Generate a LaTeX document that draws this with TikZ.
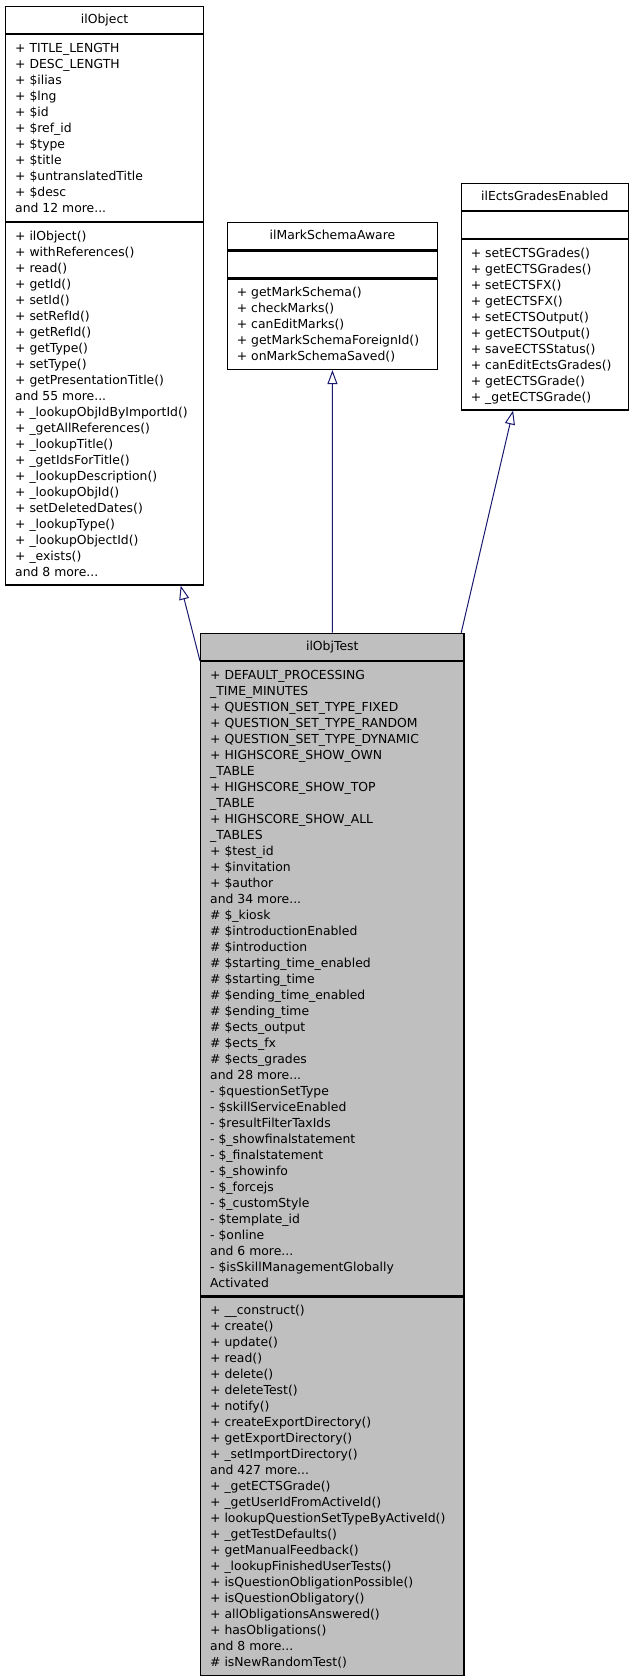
\documentclass[tikz,border=0pt]{standalone}
\usepackage{fontspec}
\setmainfont{DejaVu Sans}
\usetikzlibrary{arrows.meta}
\definecolor{edgeblue}{HTML}{191970}
\definecolor{testgray}{HTML}{BFBFBF}
\newcommand{\fr}{\rule{0pt}{12pt}}
\begin{document}
\begin{tikzpicture}[x=1pt,y=-1pt,
  font=\fontsize{12.4}{16}\selectfont,
  secbox/.style={draw=black, line width=1.2pt, inner sep=0pt, anchor=north west},
  titlebox/.style={secbox, minimum height=27pt, text height=9.5pt, text depth=2.5pt},
  sectext/.style={inner sep=0pt, anchor=north west, align=left},
  inh/.style={draw=edgeblue, line width=1pt, -{Triangle[open,length=14pt,width=10pt]}}
]
\useasboundingbox (0,0) rectangle (632,1680);

% ---------------- ilObject ----------------
\node[titlebox, minimum width=198pt] (objT) at (5,6) {ilObject};
\node[secbox, minimum width=198pt, minimum height=186.5pt] (objA) at (objT.south west) {};
\node[sectext] (objAt) at ([shift={(10pt,-6pt)}]objA.north west) {\fr + TITLE\_LENGTH\\
+ DESC\_LENGTH\\
+ \$ilias\\
+ \$lng\\
+ \$id\\
+ \$ref\_id\\
+ \$type\\
+ \$title\\
+ \$untranslatedTitle\\
+ \$desc\\
and 12 more...};
\node[secbox, minimum width=198pt, minimum height=362.5pt] (objM) at (objA.south west) {};
\node[sectext] (objMt) at ([shift={(10pt,-6pt)}]objM.north west) {\fr + ilObject()\\
+ withReferences()\\
+ read()\\
+ getId()\\
+ setId()\\
+ setRefId()\\
+ getRefId()\\
+ getType()\\
+ setType()\\
+ getPresentationTitle()\\
and 55 more...\\
+ \_lookupObjIdByImportId()\\
+ \_getAllReferences()\\
+ \_lookupTitle()\\
+ \_getIdsForTitle()\\
+ \_lookupDescription()\\
+ \_lookupObjId()\\
+ setDeletedDates()\\
+ \_lookupType()\\
+ \_lookupObjectId()\\
+ \_exists()\\
and 8 more...};

% ---------------- ilMarkSchemaAware ----------------
\node[titlebox, minimum width=210.3pt] (msaT) at (226.7,222.3) {ilMarkSchemaAware};
\node[secbox, minimum width=210.3pt, minimum height=26.7pt] (msaA) at (msaT.south west) {};
\node[secbox, minimum width=210.3pt, minimum height=90.5pt] (msaM) at (msaA.south west) {};
\node[sectext] (msaMt) at ([shift={(10pt,-6pt)}]msaM.north west) {\fr + getMarkSchema()\\
+ checkMarks()\\
+ canEditMarks()\\
+ getMarkSchemaForeignId()\\
+ onMarkSchemaSaved()};

% ---------------- ilEctsGradesEnabled ----------------
\node[titlebox, minimum width=167pt] (ectsT) at (460.7,182.7) {ilEctsGradesEnabled};
\node[secbox, minimum width=167pt, minimum height=26.7pt] (ectsA) at (ectsT.south west) {};
\node[secbox, minimum width=167pt, minimum height=170.5pt] (ectsM) at (ectsA.south west) {};
\node[sectext] (ectsMt) at ([shift={(10pt,-6pt)}]ectsM.north west) {\fr + setECTSGrades()\\
+ getECTSGrades()\\
+ setECTSFX()\\
+ getECTSFX()\\
+ setECTSOutput()\\
+ getECTSOutput()\\
+ saveECTSStatus()\\
+ canEditEctsGrades()\\
+ getECTSGrade()\\
+ \_getECTSGrade()};

% ---------------- ilObjTest ----------------
\node[titlebox, fill=testgray, minimum width=263.3pt] (testT) at (200,632.7) {ilObjTest};
\node[secbox, fill=testgray, minimum width=263.3pt, minimum height=634.5pt] (testA) at (testT.south west) {};
\node[sectext] (testAt) at ([shift={(10pt,-6pt)}]testA.north west) {\fr + DEFAULT\_PROCESSING\\
\_TIME\_MINUTES\\
+ QUESTION\_SET\_TYPE\_FIXED\\
+ QUESTION\_SET\_TYPE\_RANDOM\\
+ QUESTION\_SET\_TYPE\_DYNAMIC\\
+ HIGHSCORE\_SHOW\_OWN\\
\_TABLE\\
+ HIGHSCORE\_SHOW\_TOP\\
\_TABLE\\
+ HIGHSCORE\_SHOW\_ALL\\
\_TABLES\\
+ \$test\_id\\
+ \$invitation\\
+ \$author\\
and 34 more...\\
\# \$\_kiosk\\
\# \$introductionEnabled\\
\# \$introduction\\
\# \$starting\_time\_enabled\\
\# \$starting\_time\\
\# \$ending\_time\_enabled\\
\# \$ending\_time\\
\# \$ects\_output\\
\# \$ects\_fx\\
\# \$ects\_grades\\
and 28 more...\\
- \$questionSetType\\
- \$skillServiceEnabled\\
- \$resultFilterTaxIds\\
- \$\_showfinalstatement\\
- \$\_finalstatement\\
- \$\_showinfo\\
- \$\_forcejs\\
- \$\_customStyle\\
- \$template\_id\\
- \$online\\
and 6 more...\\
- \$isSkillManagementGlobally\\
Activated};
\node[secbox, fill=testgray, minimum width=263.3pt, minimum height=378.5pt] (testM) at (testA.south west) {};
\node[sectext] (testMt) at ([shift={(10pt,-6pt)}]testM.north west) {\fr + \_\_construct()\\
+ create()\\
+ update()\\
+ read()\\
+ delete()\\
+ deleteTest()\\
+ notify()\\
+ createExportDirectory()\\
+ getExportDirectory()\\
+ \_setImportDirectory()\\
and 427 more...\\
+ \_getECTSGrade()\\
+ \_getUserIdFromActiveId()\\
+ lookupQuestionSetTypeByActiveId()\\
+ \_getTestDefaults()\\
+ getManualFeedback()\\
+ \_lookupFinishedUserTests()\\
+ isQuestionObligationPossible()\\
+ isQuestionObligatory()\\
+ allObligationsAnswered()\\
+ hasObligations()\\
and 8 more...\\
\# isNewRandomTest()};

% ---------------- inheritance edges ----------------
\draw[inh] (testT.south west) -- ([xshift=-23.5pt]objM.south east);
\draw[inh] (testT.north) -- (msaM.south);
\draw[inh] ([xshift=-3.3pt]testT.north east) -- ([xshift=-31.7pt]ectsM.south);
\end{tikzpicture}
\end{document}
